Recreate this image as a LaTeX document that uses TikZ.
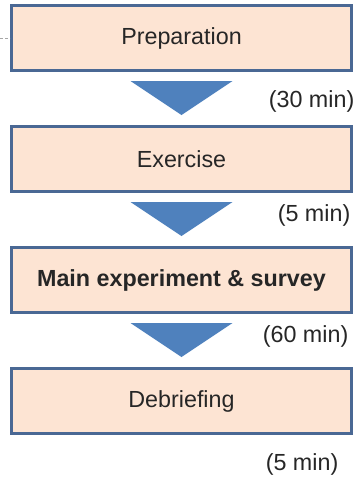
\documentclass[tikz,border=0pt]{standalone}
\usepackage{tikz}
\usetikzlibrary{positioning}
\usepackage{xcolor}
\usepackage{fontspec}
\setmainfont{Liberation Sans}
\definecolor{boxfill}{HTML}{FDE4D3}
\definecolor{boxline}{HTML}{4A6894}
\definecolor{arrowblue}{HTML}{4F81BD}

\begin{document}
\begin{tikzpicture}[x=1pt, y=1pt, node distance=53pt,
        stage/.style={draw=boxline, line width=3pt, fill=boxfill, minimum width=340pt, minimum height=65pt, text=black!85, font=\fontsize{23.3}{27}\selectfont},
        dur/.style={anchor=east, inner sep=0pt, text=black!85, font=\fontsize{23.3}{27}\selectfont},
        downarrow/.style={fill=arrowblue}]
        \useasboundingbox (0,0) rectangle (356,-480);
        \node[stage] (prep) at (181.5,-38) {Preparation};
        \node[stage, below=of prep] (exercise) {Exercise};
        \node[stage, below=of exercise] (main) {\bfseries Main experiment \& survey};
        \node[stage, below=of main] (debrief) {Debriefing};
        \coordinate (side) at (0,-38);
        \draw[gray!70, line width=1pt, dash pattern=on 3pt off 2pt] (side) -- (prep.west);
        \foreach \a in {prep, exercise, main}
            \fill[downarrow] ([xshift=-51pt, yshift=-9pt]\a.south) -- ++(102pt,0) -- ++(-51pt,-34pt) -- cycle;
        \node[dur] (t1) at ([xshift=1.5pt, yshift=-29pt]prep.south east) {(30 min)};
        \node[dur] (t2) at ([xshift=-2.5pt, yshift=-22pt]exercise.south east) {(5 min)};
        \node[dur] (t3) at ([xshift=-4.5pt, yshift=-22pt]main.south east) {(60 min)};
        \node[dur] (t4) at ([xshift=-14.5pt, yshift=-29pt]debrief.south east) {(5 min)};
    \end{tikzpicture}
\end{document}
